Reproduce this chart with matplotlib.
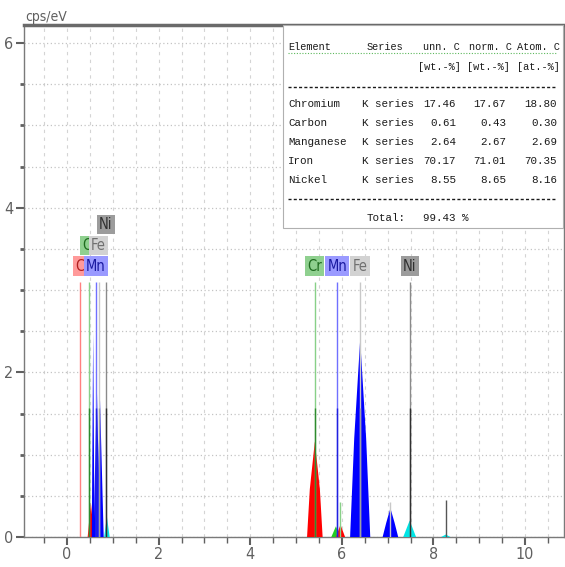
import matplotlib
matplotlib.use('Agg')
import matplotlib.pyplot as plt
from matplotlib.patches import Rectangle
from matplotlib.ticker import MultipleLocator

# ---------------- data ----------------
# filled spectrum peaks: energy (keV), height (cps/eV), half width at base, half width at half height
peak_energy = [0.52, 0.57, 0.65, 0.72, 0.87, 5.41, 5.87, 5.97, 6.40, 7.06, 7.48, 8.27]
peak_height = [0.42, 2.48, 1.85, 1.66, 0.25, 1.16, 0.13, 0.15, 2.40, 0.35, 0.20, 0.03]
peak_hw = [0.07, 0.03, 0.07, 0.08, 0.06, 0.17, 0.10, 0.10, 0.22, 0.17, 0.14, 0.10]
peak_hw_half = [0.035, 0.015, 0.035, 0.04, 0.03, 0.11, 0.05, 0.05, 0.13, 0.09, 0.07, 0.05]
peak_elem = ['Cr', 'Fe', 'Fe', 'Fe', 'Ni', 'Cr', 'Mn', 'Cr', 'Fe', 'Fe', 'Ni', 'Ni']

# labelled element lines
label_elem = ['C', 'Cr', 'Mn', 'Fe', 'Ni', 'Cr', 'Mn', 'Fe', 'Ni']
label_energy = [0.28, 0.49, 0.63, 0.69, 0.85, 5.41, 5.90, 6.40, 7.48]
label_row = [0, 1, 0, 1, 2, 0, 0, 0, 0]
line_main_height = 3.1
line_second_height = 1.57

# minor (K-beta) lines
minor_elem = ['Cr', 'Fe', 'Ni']
minor_energy = [5.95, 7.06, 8.27]
minor_height = [0.42, 0.43, 0.45]

# quantification table
tbl_elements = ['Chromium', 'Carbon', 'Manganese', 'Iron', 'Nickel']
tbl_series = ['K series'] * 5
tbl_unn = [17.46, 0.61, 2.64, 70.17, 8.55]
tbl_norm = [17.67, 0.43, 2.67, 71.01, 8.65]
tbl_atom = [18.80, 0.30, 2.69, 70.35, 8.16]
tbl_total = 99.43
tbl_headers = ['Element', 'Series', 'unn. C', 'norm. C', 'Atom. C']
tbl_units = ['[wt.-%]', '[wt.-%]', '[at.-%]']

# ---------------- styles ----------------
peak_col = {'Cr': '#ff0000', 'Mn': '#22cc22', 'Fe': '#0000ff', 'Ni': '#00e5e5'}
line_light = {'C': '#ff8080', 'Cr': '#88d088', 'Mn': '#7070ff', 'Fe': '#c8c8c8', 'Ni': '#8a8a8a'}
line_dark = {'C': '#ff6060', 'Cr': '#2e8b2e', 'Mn': '#2020e0', 'Fe': '#a0a0a0', 'Ni': '#303030'}
box_bg = {'C': '#ff9a9a', 'Cr': '#8fd08f', 'Mn': '#9a9aff', 'Fe': '#d2d2d2', 'Ni': '#9c9c9c'}
box_fg = {'C': '#b02020', 'Cr': '#1f6b1f', 'Mn': '#1a1aa0', 'Fe': '#707070', 'Ni': '#303030'}

narrow = dict(family='DejaVu Sans', stretch='condensed')
gray = '#606060'

W, H = 565, 567
fig = plt.figure(figsize=(W / 100, H / 100), dpi=100)
ax = fig.add_axes([24 / W, 1 - 537 / H, (564 - 24) / W, (537 - 25) / H])
ax.set_xlim(-0.94, 10.85)
ax.set_ylim(0, 6.22)

# grid
ax.xaxis.set_major_locator(MultipleLocator(2))
ax.xaxis.set_minor_locator(MultipleLocator(0.5))
ax.yaxis.set_major_locator(MultipleLocator(2))
ax.yaxis.set_minor_locator(MultipleLocator(0.5))
ax.grid(which='both', axis='x', ls=(0, (3, 4)), color='#d4d4d4', lw=0.8)
ax.grid(which='both', axis='y', ls=(0, (1, 2)), color='#c4c4c4', lw=0.9)
ax.set_axisbelow(True)

# peaks
for e, h, w, w2, el in zip(peak_energy, peak_height, peak_hw, peak_hw_half, peak_elem):
    ax.fill([e - w, e - w2, e, e + w2, e + w], [0, h / 2, h, h / 2, 0],
            color=peak_col[el], lw=0, zorder=3)

# marker lines
for el, e in zip(label_elem, label_energy):
    ax.vlines(e, 0, line_main_height, color=line_light[el], lw=1.0, zorder=4)
    if el != 'C':
        ax.vlines(e, 0, line_second_height, color=line_dark[el], lw=1.0, zorder=4)
for el, e, h in zip(minor_elem, minor_energy, minor_height):
    ax.vlines(e, 0, h, color=line_light[el] if el != 'Ni' else '#555555', lw=1.0, zorder=4)

# labels
for el, e, r in zip(label_elem, label_energy, label_row):
    ax.text(e, 3.29 + 0.255 * r, el, ha='center', va='center', fontsize=10.5,
            color=box_fg[el], zorder=6,
            bbox=dict(boxstyle='square,pad=0.15', fc=box_bg[el], ec='none'), **narrow)

# axes styling
for s in ['left', 'bottom', 'right']:
    ax.spines[s].set_color('#7a7a7a')
    ax.spines[s].set_linewidth(1.0)
ax.spines['top'].set_color('#6a6a6a')
ax.spines['top'].set_linewidth(2.5)
ax.tick_params(axis='x', which='major', direction='out', length=6, width=1.5, color=gray,
               labelcolor=gray, labelsize=11.5, pad=1)
ax.tick_params(axis='x', which='minor', direction='out', length=4, width=1.0, color=gray)
ax.tick_params(axis='y', which='major', direction='out', length=6, width=1.5, color=gray,
               labelcolor=gray, labelsize=11.5, pad=2)
ax.tick_params(axis='y', which='minor', direction='out', length=3, width=2.0, color=gray)
for lab in ax.get_xticklabels() + ax.get_yticklabels():
    lab.set_family('DejaVu Sans')
    lab.set_stretch('condensed')

fig.text(25 / W, 1 - 17 / H, 'cps/eV', fontsize=10, color=gray,
         ha='left', va='center', **narrow)

# table box
x0 = (283 - 24) / 540
y0 = (537 - 228) / 512
ax.add_patch(Rectangle((x0, y0), 1 - x0 - 0.002, 1 - y0, transform=ax.transAxes,
                       fc='white', ec='#b0b0b0', lw=0.8, zorder=5))


def px(xp, yp):
    return (xp - 24) / 540, (537 - yp) / 512


def put(xp, yp, s, ha='left', size=7.8):
    x, y = px(xp, yp)
    ax.text(x, y, s, ha=ha, family='Liberation Mono', fontsize=size, color='#1a1a1a',
            va='center', zorder=7, transform=ax.transAxes)


for hx, hs in zip([288, 367, 423, 469, 517], tbl_headers):
    put(hx, 47, hs, size=7.4)
for ux, us in zip([418, 467, 517], tbl_units):
    put(ux, 67, us, size=7.4)
for i, (n, s, a, b, c) in enumerate(zip(tbl_elements, tbl_series, tbl_unn, tbl_norm, tbl_atom)):
    yp = 104 + 19 * i
    put(288, yp, n)
    put(362, yp, s)
    put(456, yp, f'{a:.2f}', ha='right')
    put(506, yp, f'{b:.2f}', ha='right')
    put(557, yp, f'{c:.2f}', ha='right')
put(367, 218, 'Total:')
put(423, 218, f'{tbl_total:.2f} %')
for yp in (87, 199):
    xa, ya = px(288, yp)
    xb, _ = px(557, yp)
    ax.plot([xa, xb], [ya, ya], transform=ax.transAxes, ls=(0, (2.2, 1.6)),
            color='#1a1a1a', lw=1.0, zorder=7)
# spell-check underline in header
xa, ya = px(288, 53)
xb, _ = px(557, 53)
ax.plot([xa, xb], [ya, ya], transform=ax.transAxes, ls=(0, (1, 1.5)),
        color='#5cb85c', lw=0.8, zorder=7)

fig.savefig('out.png', dpi=100)
